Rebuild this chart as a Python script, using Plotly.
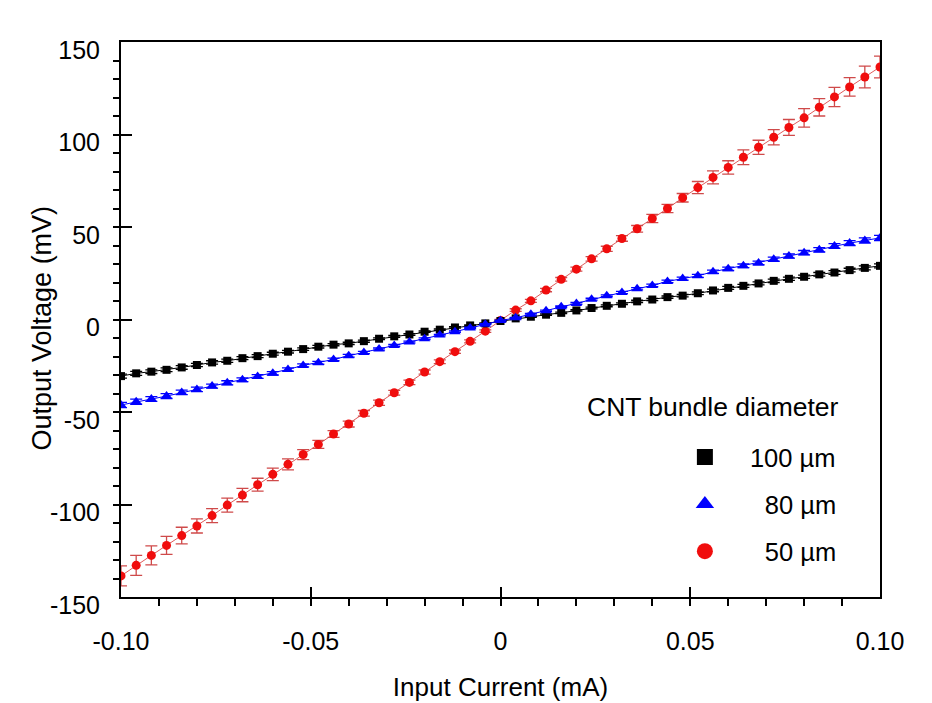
import plotly.graph_objects as go

# Input current sweep (mA)
current_ma = [
    -0.100, -0.096, -0.092, -0.088, -0.084, -0.080, -0.076, -0.072, -0.068, -0.064,
    -0.060, -0.056, -0.052, -0.048, -0.044, -0.040, -0.036, -0.032, -0.028, -0.024,
    -0.020, -0.016, -0.012, -0.008, -0.004, 0.000, 0.004, 0.008, 0.012, 0.016,
    0.020, 0.024, 0.028, 0.032, 0.036, 0.040, 0.044, 0.048, 0.052, 0.056,
    0.060, 0.064, 0.068, 0.072, 0.076, 0.080, 0.084, 0.088, 0.092, 0.096, 0.100,
]

# Output voltage (mV) for each CNT bundle diameter
v_100um = [
    -30.6, -29.1, -28.2, -27.2, -25.9, -24.6, -23.2, -22.3, -20.9, -19.8,
    -18.5, -17.4, -16.0, -14.7, -13.6, -12.9, -11.7, -10.4, -9.1, -8.1,
    -6.6, -5.5, -4.3, -3.2, -2.1, -0.8, 0.6, 1.5, 2.6, 3.6,
    4.9, 6.2, 7.4, 8.5, 9.8, 10.8, 12.1, 12.9, 14.2, 15.7,
    17.1, 18.2, 19.5, 20.9, 22.0, 23.1, 24.4, 25.4, 26.7, 27.9, 29.0,
]
v_80um = [
    -46.2, -44.4, -43.0, -41.4, -39.4, -37.8, -36.0, -34.2, -32.6, -30.8,
    -29.1, -27.0, -24.8, -23.4, -21.6, -19.6, -17.8, -16.0, -14.0, -12.2,
    -10.4, -8.4, -6.6, -4.6, -2.5, -0.6, 0.9, 2.9, 4.7, 6.9,
    8.7, 11.0, 12.8, 14.6, 16.6, 18.4, 20.6, 22.1, 23.6, 25.8,
    27.4, 29.0, 30.6, 32.6, 34.3, 36.1, 37.7, 39.7, 41.3, 42.7, 44.1,
]
v_50um = [
    -138.6, -132.9, -127.5, -122.1, -116.8, -111.6, -106.0, -100.3, -94.9, -89.3,
    -83.7, -78.3, -73.0, -67.5, -61.9, -56.5, -50.7, -45.0, -39.6, -34.0,
    -28.4, -22.8, -17.4, -11.8, -6.3, -0.5, 5.1, 10.1, 15.9, 21.7,
    27.2, 32.8, 38.2, 43.8, 49.0, 54.6, 60.0, 65.8, 71.3, 76.8,
    82.2, 87.7, 93.1, 98.5, 103.8, 109.0, 114.7, 120.3, 125.7, 131.1, 136.5,
]

# Measurement uncertainty (± mV)
err_100um = [
    1.1, 1.1, 1.0, 1.0, 1.0, 0.9, 0.9, 0.9, 0.8, 0.8,
    0.8, 0.7, 0.7, 0.7, 0.6, 0.6, 0.6, 0.5, 0.5, 0.5,
    0.4, 0.4, 0.4, 0.3, 0.3, 0.3, 0.3, 0.3, 0.4, 0.4,
    0.4, 0.5, 0.5, 0.5, 0.6, 0.6, 0.6, 0.7, 0.7, 0.7,
    0.8, 0.8, 0.8, 0.9, 0.9, 0.9, 1.0, 1.0, 1.0, 1.1, 1.1,
]
err_80um = [
    1.4, 1.4, 1.3, 1.3, 1.2, 1.2, 1.1, 1.1, 1.0, 1.0,
    0.9, 0.9, 0.8, 0.8, 0.7, 0.7, 0.6, 0.6, 0.5, 0.5,
    0.5, 0.4, 0.4, 0.4, 0.3, 0.3, 0.3, 0.4, 0.4, 0.4,
    0.5, 0.5, 0.5, 0.6, 0.6, 0.7, 0.7, 0.8, 0.8, 0.9,
    0.9, 1.0, 1.0, 1.1, 1.1, 1.2, 1.2, 1.3, 1.3, 1.4, 1.4,
]
err_50um = [
    5.4, 5.4, 5.1, 4.9, 4.5, 3.8, 3.8, 3.8, 3.6, 3.5,
    3.4, 3.0, 2.7, 2.2, 1.8, 1.6, 1.5, 1.4, 1.3, 1.2,
    1.1, 1.0, 0.9, 0.8, 0.7, 0.6, 0.7, 0.8, 0.9, 1.0,
    1.1, 1.2, 1.4, 1.5, 1.8, 2.2, 2.2, 2.3, 3.3, 3.5,
    3.6, 4.0, 3.8, 4.1, 4.3, 5.0, 4.7, 5.2, 5.0, 5.9, 5.9,
]

series_names = ["100\u00a0µm", "\u2002\u200a80\u00a0µm", "\u2002\u200a50\u00a0µm"]
legend_title = "CNT bundle diameter"

x_ticks = [-0.10, -0.05, 0.0, 0.05, 0.10]
x_ticktext = ["-0.10", "-0.05", "0", "0.05", "0.10"]
y_ticks = [-150, -100, -50, 0, 50, 100, 150]
y_ticktext = ["-150", "-100", "-50", "0", "50", "100", "150"]

FONT = "Liberation Sans, Arial, Helvetica, sans-serif"

series = [
    # values, errors, marker symbol, marker size, fill colour, line colour, error colour
    (v_50um, err_50um, "circle", 9, "#f00d0d", "#e05a5a", "#cf4a4a", series_names[2]),
    (v_100um, err_100um, "square", 8, "#000000", "#000000", "#000000", series_names[0]),
    (v_80um, err_80um, "triangle-up", 10, "#0000ff", "#0000ff", "#0000ff", series_names[1]),
]

fig = go.Figure()

for vals, errs, sym, size, fill, line_c, err_c, name in series:
    # connecting line
    fig.add_trace(go.Scatter(
        x=current_ma, y=vals, mode="lines",
        line=dict(color=line_c, width=1),
        showlegend=False, hoverinfo="skip",
    ))
    # measured points with error bars
    fig.add_trace(go.Scatter(
        x=current_ma, y=vals, mode="markers",
        marker=dict(symbol=sym, size=size, color=fill, line=dict(width=0)),
        error_y=dict(type="data", array=errs, visible=True,
                     color=err_c, thickness=1.3, width=6),
        showlegend=False, name=name,
    ))

# legend keys (larger symbols, no line)
legend_keys = [
    (series_names[0], "square", 16, "#000000"),
    (series_names[1], "triangle-up", 17, "#0000ff"),
    (series_names[2], "circle", 17, "#f00d0d"),
]
for i, (name, sym, size, col) in enumerate(legend_keys):
    fig.add_trace(go.Scatter(
        x=[None], y=[None], mode="markers", name=name,
        legendgroup=f"g{i}",
        marker=dict(symbol=sym, size=size, color=col, line=dict(width=0)),
        showlegend=True,
    ))

axis_common = dict(
    showline=True, linecolor="black", linewidth=2, mirror=True,
    showgrid=False, zeroline=False,
    ticks="inside", tickcolor="black", tickwidth=1.5,
    tickfont=dict(family=FONT, size=25, color="black"),
)

fig.update_xaxes(
    range=[-0.1, 0.1],
    tickmode="array", tickvals=x_ticks, ticktext=x_ticktext,
    ticklen=10, ticklabelstandoff=21,
    minor=dict(ticks="outside", dtick=0.01, ticklen=7, tickwidth=1.5, tickcolor="black", showgrid=False),
    title=dict(text="Input Current (mA)", font=dict(family=FONT, size=26, color="black"), standoff=24),
    **axis_common,
)
fig.update_yaxes(
    range=[-150, 150],
    tickmode="array", tickvals=y_ticks, ticktext=y_ticktext,
    ticklen=11, ticklabelstandoff=14, ticklabelshift=8,
    minor=dict(ticks="outside", dtick=10, ticklen=6, tickwidth=1.5, tickcolor="black", showgrid=False),
    **axis_common,
)

# vertical axis title
fig.add_annotation(
    text="Output Voltage (mV)", xref="paper", yref="paper",
    x=-0.1045, y=0.485, xanchor="center", yanchor="middle", textangle=-90,
    showarrow=False, font=dict(family=FONT, size=27, color="black"),
)

fig.add_annotation(
    text=legend_title, xref="paper", yref="paper",
    x=0.6113, y=0.342, xanchor="left", yanchor="middle", showarrow=False,
    font=dict(family=FONT, size=26.5, color="black"),
)

fig.update_layout(
    width=932, height=703,
    margin=dict(l=121, r=52, t=42, b=106, autoexpand=False),
    paper_bgcolor="white", plot_bgcolor="white",
    font=dict(family=FONT, color="black"),
    showlegend=True,
    legend=dict(
        x=0.71, y=0.294, xanchor="left", yanchor="top",
        traceorder="grouped", tracegroupgap=11, itemwidth=80,
        font=dict(family=FONT, size=25.5, color="black"),
        bgcolor="rgba(0,0,0,0)", borderwidth=0,
    ),
)

fig.write_html("out.html")
